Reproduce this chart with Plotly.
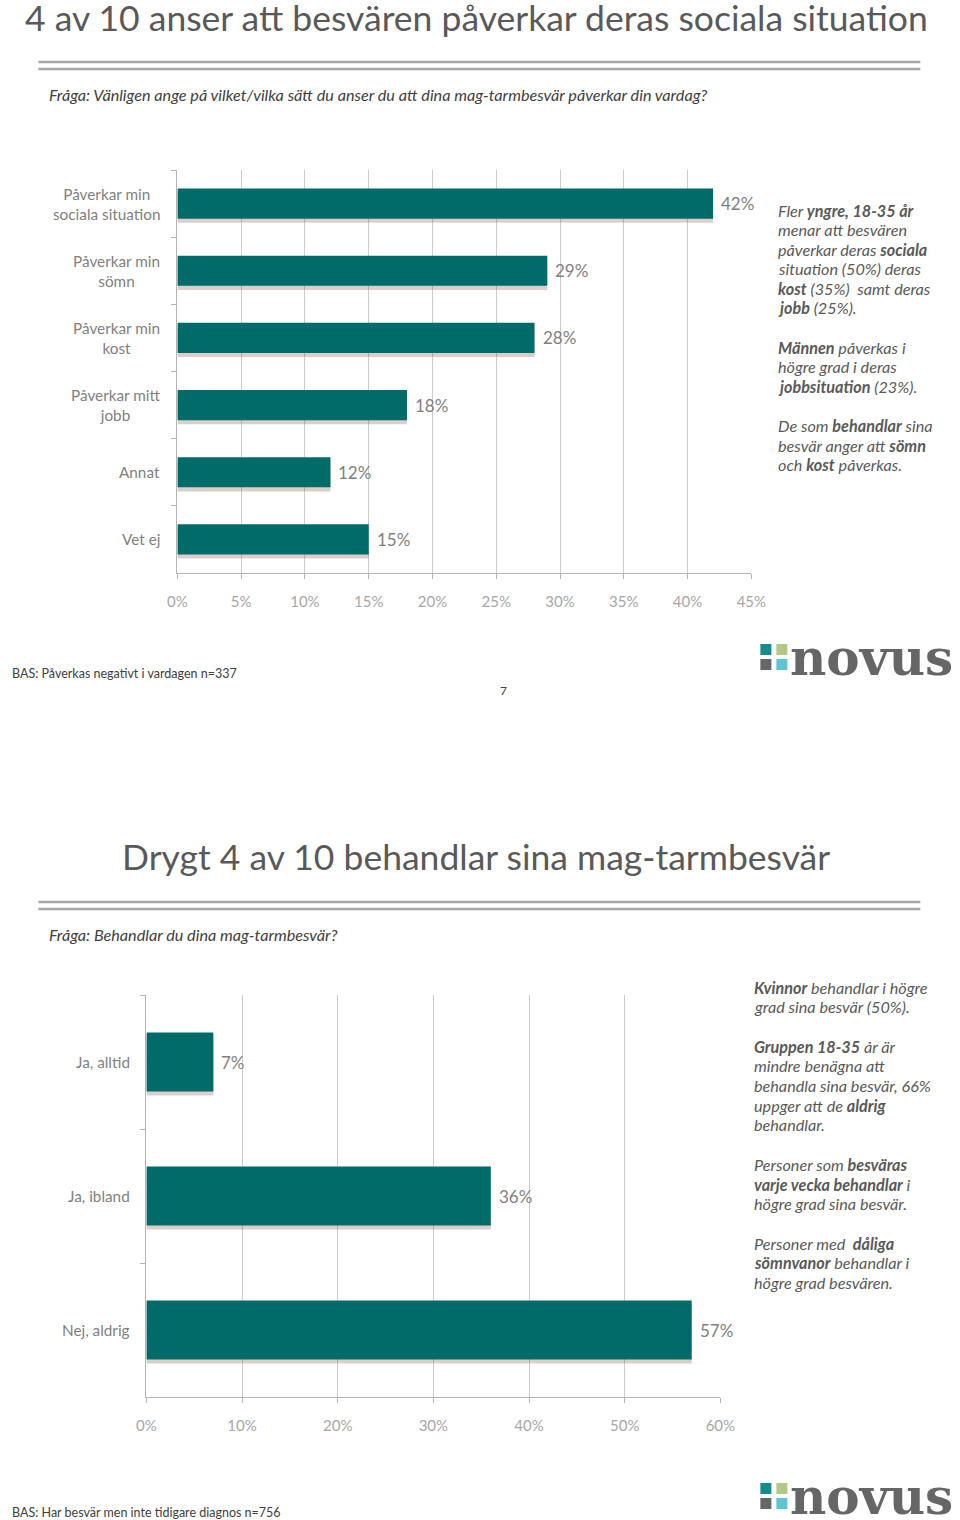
import plotly.graph_objects as go

W, H = 960, 1520

# ---------------- data ----------------
cats1 = ["Påverkar min<br>sociala situation", "Påverkar min<br>sömn", "Påverkar min<br>kost",
         "Påverkar mitt<br>jobb", "Annat", "Vet ej"]
vals1 = [42, 29, 28, 18, 12, 15]
ticks1 = [0, 5, 10, 15, 20, 25, 30, 35, 40, 45]

cats2 = ["Ja, alltid", "Ja, ibland", "Nej, aldrig"]
vals2 = [7, 36, 57]
ticks2 = [0, 10, 20, 30, 40, 50, 60]

title1 = "4 av 10 anser att besvären påverkar deras sociala situation"
question1 = "Fråga: Vänligen ange på vilket/vilka sätt du anser du att dina mag-tarmbesvär påverkar din vardag?"
notes1 = ["Fler <b>yngre, 18-35 år</b>", "menar att besvären", "påverkar deras <b>sociala</b>",
          "situation (50%) deras", "<b>kost</b> (35%)  samt deras", "<b>jobb</b> (25%).", "",
          "<b>Männen</b> påverkas i", "högre grad i deras", "<b>jobbsituation</b> (23%).", "",
          "De som <b>behandlar</b> sina", "besvär anger att <b>sömn</b>", "och <b>kost</b> påverkas."]
base1 = "BAS: Påverkas negativt i vardagen n=337"
page1 = "7"

title2 = "Drygt 4 av 10 behandlar sina mag-tarmbesvär"
question2 = "Fråga: Behandlar du dina mag-tarmbesvär?"
notes2 = ["<b>Kvinnor</b> behandlar i högre", "grad sina besvär (50%).", "",
          "<b>Gruppen 18-35</b> år är", "mindre benägna att", "behandla sina besvär, 66%",
          "uppger att de <b>aldrig</b>", "behandlar.", "",
          "Personer som <b>besväras</b>", "<b>varje vecka behandlar</b> i", "högre grad sina besvär.", "",
          "Personer med  <b>dåliga</b>", "<b>sömnvanor</b> behandlar i", "högre grad besvären."]
base2 = "BAS: Har besvär men inte tidigare diagnos n=756"

# ---------------- style ----------------
FONT = "Lato"
TEAL = "#006B68"
SHADOW = "rgba(130,80,70,0.28)"
GRID = "#cccccc"
AXIS = "#b3b3b3"
DARK = "#595959"
LABEL = "#7f7f7f"
TICK = "#a6a6a6"

# horizontal calibration of the capture (measured): image_x = 9.6 + 0.974 * page_x
SX, OX = 0.974, 9.6


def py(ypx):
    return 1 - ypx / H


def px(xpx):
    return max(0.0, (xpx - OX) / SX) / W


fig = go.Figure()

# chart 1 (shadow first, then bars)
fig.add_trace(go.Bar(y=cats1, x=vals1, orientation="h", width=0.45, offset=-0.225 + 0.06,
                     marker=dict(color=SHADOW, line=dict(width=0)), xaxis="x", yaxis="y",
                     hoverinfo="skip", showlegend=False))
fig.add_trace(go.Bar(y=cats1, x=vals1, orientation="h", width=0.45, offset=-0.225,
                     marker=dict(color=TEAL, line=dict(width=0)), xaxis="x", yaxis="y",
                     showlegend=False))
# chart 2
fig.add_trace(go.Bar(y=cats2, x=vals2, orientation="h", width=0.44, offset=-0.22 + 0.03,
                     marker=dict(color=SHADOW, line=dict(width=0)), xaxis="x2", yaxis="y2",
                     hoverinfo="skip", showlegend=False))
fig.add_trace(go.Bar(y=cats2, x=vals2, orientation="h", width=0.44, offset=-0.22,
                     marker=dict(color=TEAL, line=dict(width=0)), xaxis="x2", yaxis="y2",
                     showlegend=False))

axis_common = dict(showgrid=True, gridcolor=GRID, gridwidth=1, showline=True, linecolor=AXIS,
                   linewidth=1, ticks="outside", tickcolor=AXIS, ticklen=5,
                   tickfont=dict(family=FONT, size=15, color=TICK), zeroline=False, fixedrange=True)

fig.update_layout(
    width=W, height=H, margin=dict(l=0, r=0, t=0, b=0), autosize=False,
    paper_bgcolor="white", plot_bgcolor="white", barmode="overlay",
    font=dict(family=FONT, color=DARK),
    xaxis=dict(domain=[px(177), px(751)], range=[0, 45], tickmode="array", tickvals=ticks1,
               ticktext=[f"{t}%" for t in ticks1], anchor="y",
               ticklabelstandoff=10, **axis_common),
    yaxis=dict(domain=[py(573), py(170)], type="category", categoryorder="array",
               categoryarray=cats1, autorange="reversed", tickson="boundaries",
               showticklabels=False, ticks="outside", ticklen=5, tickcolor=AXIS,
               showline=True, linecolor=AXIS, showgrid=False, anchor="x", fixedrange=True),
    xaxis2=dict(domain=[px(146), px(720)], range=[0, 60], tickmode="array", tickvals=ticks2,
                ticktext=[f"{t}%" for t in ticks2], anchor="y2",
                ticklabelstandoff=10, **axis_common),
    yaxis2=dict(domain=[py(1397), py(995)], type="category", categoryorder="array",
                categoryarray=cats2, autorange="reversed", tickson="boundaries",
                showticklabels=False, ticks="outside", ticklen=5, tickcolor=AXIS,
                showline=True, linecolor=AXIS, showgrid=False, anchor="x2", fixedrange=True),
)

ann = []
shapes = []

# category labels and value labels
for c, v in zip(cats1, vals1):
    ann.append(dict(xref="paper", yref="y", x=px(162), y=c, text=c, showarrow=False,
                    xanchor="right", yanchor="middle", align="center",
                    font=dict(family=FONT, size=15.3, color=LABEL)))
    ann.append(dict(xref="x", yref="y", x=v, y=c, text=f"{v}%", showarrow=False,
                    xanchor="left", yanchor="middle", xshift=6,
                    font=dict(family=FONT, size=17, color=LABEL)))
for c, v in zip(cats2, vals2):
    ann.append(dict(xref="paper", yref="y2", x=px(132), y=c, text=c, showarrow=False,
                    xanchor="right", yanchor="middle", align="right",
                    font=dict(family=FONT, size=15.3, color=LABEL)))
    ann.append(dict(xref="x2", yref="y2", x=v, y=c, text=f"{v}%", showarrow=False,
                    xanchor="left", yanchor="middle", xshift=6,
                    font=dict(family=FONT, size=17, color=LABEL)))


def header(title, ytitle, yline, question, yq):
    ann.append(dict(xref="paper", yref="paper", x=px(476), y=py(ytitle), text=title,
                    showarrow=False, xanchor="center", yanchor="middle",
                    font=dict(family=FONT, size=35.5, color=DARK)))
    for yy in (yline, yline + 7):
        shapes.append(dict(type="line", xref="paper", yref="paper", x0=px(38), x1=px(920),
                           y0=py(yy), y1=py(yy), line=dict(color="#a6a6a6", width=2.5)))
    ann.append(dict(xref="paper", yref="paper", x=px(47), y=py(yq), text=f"<i>{question}</i>",
                    showarrow=False, xanchor="left", yanchor="middle",
                    font=dict(family=FONT, size=16.2, color="#404040")))


def notes(lines, x0, y0, step):
    for i, t in enumerate(lines):
        if not t:
            continue
        ann.append(dict(xref="paper", yref="paper", x=px(x0), y=py(y0 + i * step),
                        text=f"<i>{t}</i>", showarrow=False, xanchor="left", yanchor="middle",
                        font=dict(family=FONT, size=16.2, color=DARK)))


def footer(base, ybase, ylogo):
    ann.append(dict(xref="paper", yref="paper", x=px(2), y=py(ybase), text=base,
                    showarrow=False, xanchor="left", yanchor="middle",
                    font=dict(family=FONT, size=12.5, color="#404040")))
    sq = [("#168b8b", 760, ylogo), ("#b3c886", 776, ylogo),
          ("#666666", 760, ylogo + 15), ("#5ec3d2", 776, ylogo + 15)]
    for col, x0, y0 in sq:
        shapes.append(dict(type="rect", xref="paper", yref="paper", x0=px(x0), x1=px(x0 + 11),
                           y0=py(y0), y1=py(y0 + 11), fillcolor=col, line=dict(width=0)))
    ann.append(dict(xref="paper", yref="paper", x=px(788), y=py(ylogo + 13), text="<b>novus</b>",
                    showarrow=False, xanchor="left", yanchor="middle",
                    font=dict(family="DejaVu Serif", size=50, color="#666666")))


header(title1, 17, 62, question1, 94)
notes(notes1, 776, 210, 19.6)
footer(base1, 673, 644)
ann.append(dict(xref="paper", yref="paper", x=px(503), y=py(690), text=page1, showarrow=False,
                xanchor="center", yanchor="middle", font=dict(family=FONT, size=12, color="#404040")))

header(title2, 856, 902, question2, 934)
notes(notes2, 752, 987, 19.7)
footer(base2, 1512, 1483)

fig.update_layout(annotations=ann, shapes=shapes)

post = ("document.documentElement.style.margin='0';document.documentElement.style.padding='0';"
        "document.documentElement.style.overflow='hidden';"
        "document.body.style.margin='0';document.body.style.padding='0';"
        "document.body.style.overflow='hidden';"
        "var d=document.getElementById('{plot_id}');d.style.position='absolute';"
        "d.style.left='0px';d.style.top='0px';")
fig.write_html("out.html", config={"displayModeBar": False, "responsive": False},
               post_script=post)
